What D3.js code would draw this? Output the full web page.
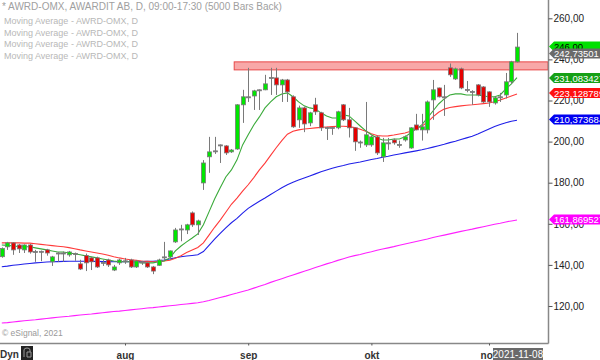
<!DOCTYPE html>
<html><head><meta charset="utf-8">
<script src="https://cdn.jsdelivr.net/npm/d3@7/dist/d3.min.js"></script>
<style>body{margin:0;background:#fff}svg{display:block;font-family:"Liberation Sans",Arial,sans-serif}</style>
</head><body><svg id="c" width="600" height="360"></svg>
<script>
// OHLC per bar (Jul 1 2021 .. Nov 8 2021)
const opens  = [144,148.8,150.7,149.7,147.3,149.7,146.5,146.3,147.3,141.5,145.8,145.5,144.9,145.5,140.5,144.5,143.4,143.4,141,142.4,137.5,141,141.9,142.4,139,141.5,141,139,139.8,143.5,143.9,151.2,157.3,157,165.3,159.5,179.9,192.6,195.3,198.2,197.9,195,196.4,217.9,221.5,222.2,225,225.2,231,231,227.6,230,221.8,210.6,216.4,209.1,217.9,214,206.9,206.7,206.7,217.9,210.6,206.7,199.8,198.4,198.4,202.3,192.6,199.2,200.8,198.6,200.8,196.9,208.1,205.7,205.7,220.3,226.1,221.6,235.9,230.5,235.4,225.4,224.4,227.6,226.6,224.2,218.8,221.6,222.7,229.1,238.8];
const highs  = [148.5,151.2,151,150.2,150,150.2,147.3,147,147.8,144.4,146.2,146.5,146.8,146,142.5,145.5,144,144,142.5,143,140,143,143.4,143,142.4,142,141.5,139.5,143,151.2,147,158,159.5,160,166,162,191,202.3,202.3,198.6,198.3,196.4,218.2,225.2,235.9,225.2,225.4,232.5,235.9,235.9,230.5,230.5,222.5,217.5,217,214.5,221.3,214.5,207.2,207.2,215,218.3,216.4,207,200.5,219.3,203,203,201.8,201.8,201.5,200.5,203,207,213.5,213.5,220,230,226.3,227.6,238,236,236,229.5,225,228,227,224.5,222,223.7,233.4,239.3,252.9];
const lows   = [143.5,147.3,144.9,145.8,145.8,145.5,141.5,141.8,144.5,139.5,141.5,141.5,144,142,137.5,137,137.5,138.5,139.5,139,137,140,140.5,138.5,138.5,140,138.5,135.5,139.5,142.4,142.5,150.7,151.5,155,158.5,154.6,176.5,184.8,194,189.6,193.5,194.5,196,209.1,219.3,215.4,215.4,225,222.7,222.7,219.3,219.3,206.7,206.7,204.6,207.5,213,205.2,200.8,203.3,206,210,202,195.5,197,197.4,197.5,193.5,190.1,196,198.5,197,200,196.5,205.5,200.5,204,210.6,221.5,212.5,231.5,230,225.5,224,217.9,222,218.8,216.9,218,219.3,221,228,238.5];
const closes = [148,150.7,147.3,147.8,149.7,146.3,146.3,146.6,145.8,143.9,145.6,145.8,146.3,145.2,138,141,141.5,139,141.2,140,139,142.4,142,139,141.9,141.3,139,137,142.4,143.9,146.8,157,157.5,159.5,159.5,161.4,189.6,195,195.5,198.4,194.5,195.9,217.9,221.8,221.8,224.7,225.2,228.1,231.2,227.6,230,224.2,207.2,216.4,208.6,214,214.5,206.7,206.7,206.9,214.5,210.6,206.7,199.9,199.4,203.3,202.3,194.5,199.4,199.4,199.4,198.4,202.3,206.7,205.7,207.2,219.3,225.2,221.8,221.8,232.5,235.4,226.1,225.2,224.2,222.7,219.3,219.3,221.3,221.8,229.1,238.8,246];
// Moving averages
const maGreen = [149.7,149.5,149.2,149,148.8,148.8,148.3,147.8,147.3,146.8,146.3,146.3,145.8,145.4,144.9,144.4,143.9,143.4,142.9,142.4,141.9,141.5,141.5,141.5,141.2,141,141,141,141.5,141.9,143.4,146.8,149.2,151.2,153.1,155.1,159.5,165.8,172.1,177.5,182.8,186.2,191.1,198.4,203.3,208.1,212,216.4,219.3,221.8,223.2,223.7,221.8,219.3,217.4,216.4,215.9,214,212.5,211.5,211.5,213,212.5,210.1,207.6,205.2,203.3,201.8,200.8,200.8,201.3,201.3,202.3,204.2,206.2,208.1,211.5,214.9,218.3,220.8,222.7,223.2,223.2,222.7,222.7,222.7,222.2,221.8,221.8,222.7,225.6,228.1,231.08];
const maRed = [150.7,150.7,150.7,150.7,150.6,150.6,150.3,150,149.7,149.4,149.1,148.8,148.4,147.9,147.3,146.8,146.3,145.8,145.3,144.7,144,143.4,142.9,142.5,142.2,141.9,141.7,141.5,141.6,141.9,142.3,143.2,144.5,146,147.3,148.5,150.7,154.5,158.3,161.8,165.6,169.5,172.5,175.9,179,182.5,186.2,189.5,193.3,197,200.5,203.6,205,205.7,206.1,206.4,206.7,206.9,207.1,207.3,207.5,207.5,207.3,206.8,206,205,203.8,203,202.7,202.8,203.2,203.7,204.2,205,206.2,207.5,209.5,212,214.3,215.8,216.6,217,217.4,217.7,217.9,218.2,218.5,218.8,219.4,220.2,221.2,222.2,223.13];
const maBlue = [139.1,139.4,139.8,140.1,140.4,140.7,141,141.2,141.4,141.5,141.6,141.7,141.8,141.8,141.8,141.8,141.7,141.7,141.6,141.6,141.5,141.5,141.5,141.5,141.5,141.6,141.7,141.8,142,142.4,142.9,143.5,144,144.3,144.6,144.9,146.5,149.5,152.5,155.3,158,160.5,162.6,165.2,167.5,169.3,171,172.6,174.3,175.9,177.5,179,180.2,181.3,182.3,183.3,184.3,185.3,186.2,187,187.8,188.4,189.1,189.6,190.1,190.7,191.3,191.8,192.4,192.9,193.5,194,194.5,195,195.5,196,196.6,197.3,198,198.7,199.5,200.2,201,201.8,202.6,203.7,204.9,206.1,207.3,208.3,209.2,209.9,210.37];
const maMagenta = [111.7,111.9,112.2,112.5,112.8,113.1,113.3,113.6,113.9,114.2,114.5,114.8,115,115.3,115.6,115.9,116.1,116.4,116.7,117,117.3,117.5,117.8,118.1,118.4,118.7,119,119.2,119.5,119.8,120.1,120.4,120.7,121,121.3,121.6,122.1,122.7,123.4,124.1,124.8,125.6,126.3,127.1,127.8,128.7,129.6,130.5,131.5,132.4,133.3,134.2,135.1,136,136.9,137.8,138.7,139.6,140.5,141.3,142.2,143,143.8,144.5,145.1,145.8,146.4,147.1,147.7,148.3,148.9,149.6,150.2,150.8,151.4,152,152.6,153.3,153.9,154.5,155.1,155.7,156.3,156.9,157.4,158,158.6,159.2,159.8,160.3,160.9,161.4,161.87];
const yTicks = [120,140,160,180,200,220,240,260];
const monthIdx = [22,44,66,87];
const monthLabels = ["aug","sep","okt","nov"];
const zoneLow = 234.9, zoneHigh = 238.8, zoneStartIdx = 41.5;
const headerLines = ["* AWRD-OMX, AWARDIT AB, D, 09:00-17:30 (5000 Bars Back)","Moving Average - AWRD-OMX, D","Moving Average - AWRD-OMX, D","Moving Average - AWRD-OMX, D","Moving Average - AWRD-OMX, D"];
const priceLabels = [
  {v:246.00, text:"246,00", bg:"#00e000", fg:"#000"},
  {v:242.73501, text:"242,73501", bg:"#6a6a6a", fg:"#fff"},
  {v:231.083427, text:"231,083427", bg:"#16a016", fg:"#fff"},
  {v:223.128789, text:"223,128789", bg:"#ff1010", fg:"#fff"},
  {v:210.373684, text:"210,373684", bg:"#0000f0", fg:"#fff"},
  {v:161.869527, text:"161,869527", bg:"#ff00ff", fg:"#fff"}
];
const labelY = [46.5,53.5,78,93,119.5,219.5];

const svg = d3.select("#c");
const axisX = 548, axisY = 343;
const x = d3.scaleLinear().domain([0,92]).range([1.8,517]);
const y = d3.scaleLinear().domain([120,260]).range([306,18.3]);
const fmt = v => d3.format(".2f")(v).replace(".",",");

const plot = svg.append("g");
// zone
plot.append("rect").attr("x", x(zoneStartIdx)).attr("y", y(zoneHigh)).attr("width", axisX - x(zoneStartIdx)).attr("height", y(zoneLow)-y(zoneHigh))
  .attr("fill","#f8a8a8").attr("stroke","#e84848").attr("stroke-width",1);

// MA lines
const mk = arr => d3.line().x((d,i)=>x(i)).y(d=>y(d))(arr);
[[maMagenta,"#ff20ff"],[maBlue,"#2020e8"],[maRed,"#ff3a3a"],[maGreen,"#3aaa3a"]].forEach(([a,c])=>{
  plot.append("path").attr("d",mk(a)).attr("fill","none").attr("stroke",c).attr("stroke-width",1.1);
});

// candles
const idx = d3.range(opens.length);
const bw = 4;
const cg = plot.append("g");
cg.selectAll("line.w").data(idx).join("line").attr("class","w")
  .attr("x1",i=>Math.round(x(i))+0.5).attr("x2",i=>Math.round(x(i))+0.5)
  .attr("y1",i=>y(highs[i])).attr("y2",i=>y(lows[i])).attr("stroke","#7a7a7a").attr("stroke-width",1);
cg.selectAll("rect.b").data(idx).join("rect").attr("class","b")
  .attr("x",i=>Math.round(x(i))-bw/2+0.5).attr("width",bw)
  .attr("y",i=>y(Math.max(opens[i],closes[i])))
  .attr("height",i=>Math.max(1,Math.abs(y(opens[i])-y(closes[i]))))
  .attr("fill",i=>Math.abs(closes[i]-opens[i])<0.5?"#7a7a7a":(closes[i]>opens[i]?"#00e600":"#e60000"))
  .attr("stroke","#7a7a7a").attr("stroke-width",0.8);

// axes lines
svg.append("line").attr("x1",axisX+0.5).attr("x2",axisX+0.5).attr("y1",0).attr("y2",axisY+0.5).attr("stroke","#888").attr("stroke-width",1.5);
svg.append("line").attr("x1",0).attr("x2",axisX+0.5).attr("y1",axisY+0.5).attr("y2",axisY+0.5).attr("stroke","#888").attr("stroke-width",1.5);

// right axis
const ra = svg.append("g").attr("transform",`translate(${axisX+0.5},0)`)
  .call(d3.axisRight(y).tickValues(yTicks).tickSize(4).tickPadding(1).tickFormat(fmt));
ra.select(".domain").remove();
ra.selectAll("line").attr("stroke","#555");
ra.selectAll("text").attr("font-size",10).attr("fill","#222").attr("font-family","Liberation Sans, Arial, sans-serif");

// bottom axis
const ba = svg.append("g").attr("transform",`translate(0,${axisY+0.5})`)
  .call(d3.axisBottom(x).tickValues(monthIdx).tickSize(2).tickPadding(6).tickFormat((d,i)=>monthLabels[i]));
ba.select(".domain").remove();
ba.selectAll("line").attr("stroke","#555");
ba.selectAll("text").attr("font-size",10).attr("font-weight","bold").attr("fill","#333").attr("font-family","Liberation Sans, Arial, sans-serif");

// date label
svg.append("rect").attr("x",493).attr("y",348).attr("width",50).attr("height",12).attr("fill","#6a6a6a");
svg.append("text").attr("x",518).attr("y",358).attr("text-anchor","middle").attr("font-size",10).attr("fill","#fff").text("2021-11-08");

// price labels
priceLabels.forEach((p,k)=>{
  const cy = labelY[k], h = 10, x0 = axisX+1;
  svg.append("path").attr("d",`M${x0},${cy} L${x0+5},${cy-h/2} L600,${cy-h/2} L600,${cy+h/2} L${x0+5},${cy+h/2} Z`).attr("fill",p.bg);
  svg.append("text").attr("x",x0+5).attr("y",cy+3.5).attr("font-size",9.5).attr("fill",p.fg).text(p.text);
});

// header
headerLines.forEach((t,k)=>{
  svg.append("text").attr("x",k?4:2).attr("y",[10,23.5,35.5,47,58.5][k]).attr("font-size",k?9:10)
    .attr("fill",k?"#b8b8b8":"#a0a0a0").text(t);
});

// footer
svg.append("text").attr("x",2).attr("y",336).attr("font-size",8.5).attr("fill","#999").text("© eSignal, 2021");
svg.append("text").attr("x",0).attr("y",358).attr("font-size",10).attr("font-weight","bold").attr("fill","#333").text("Dyn");
svg.append("rect").attr("x",21).attr("y",346).attr("width",12).attr("height",14).attr("fill","#222");
svg.append("path").attr("d","M24,357 L24,350 Q24,348 27,348 Q30,348 30,350 L30,352 M27,352 L31,352 L31,357 L27,357 Z").attr("fill","none").attr("stroke","#999").attr("stroke-width",1);
</script></body></html>
